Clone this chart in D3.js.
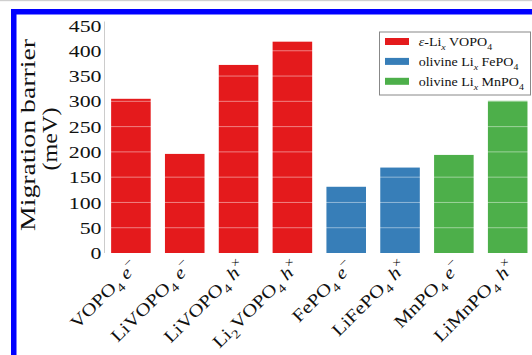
<!DOCTYPE html>
<html>
<head>
<meta charset="utf-8">
<script src="https://cdn.jsdelivr.net/npm/d3@7"></script>
<style>
  html, body { margin: 0; padding: 0; background: #fff; }
  svg { display: block; }
</style>
</head>
<body>
<script>
// Markup: "_c" subscript char, "^c" superscript char, "$...$" italic run
const formulas = ["VOPO_4", "LiVOPO_4", "LiVOPO_4", "Li_2VOPO_4", "FePO_4", "LiFePO_4", "MnPO_4", "LiMnPO_4"];
const carriers = ["$e^−$", "$e^−$", "$h^×$", "$h^×$", "$e^−$", "$h^×$", "$e^−$", "$h^×$"];
const barriers = [305, 196, 372, 418, 131, 169, 194, 301];
const families = [0, 0, 0, 0, 1, 1, 2, 2];
const familyNames = ["$ε$-Li$_x$ VOPO_4", "olivine Li$_x$ FePO_4", "olivine Li$_x$ MnPO_4"];
const familyColors = ["#e41a1c", "#377eb8", "#4daf4a"];
const yTicks = [0, 50, 100, 150, 200, 250, 300, 350, 400, 450];
const yTitle = ["Migration barrier", "(meV)"];

const W = 532, H = 355;
const FONT = "'Liberation Serif', 'Times New Roman', serif";

const svg = d3.select("body").append("svg")
  .attr("width", W).attr("height", H)
  .style("background", "#fff");

// page frame: thin grey rule and blue border
svg.append("rect").attr("x", 0).attr("y", 0).attr("width", W).attr("height", 1.2).attr("fill", "#cfcfcf");
svg.append("rect").attr("x", 11).attr("y", 9).attr("width", W - 11).attr("height", 5.5).attr("fill", "#0000ff");
svg.append("rect").attr("x", 11).attr("y", 9).attr("width", 5.5).attr("height", H - 9).attr("fill", "#0000ff");

const x = d3.scaleLinear().domain([-0.5, 7.5]).range([104, 534.6]);
const y = d3.scaleLinear().domain([0, 450]).range([253, 25.5]);
const barW = 0.735;

// parse the small markup into styled runs (operators in scripts stay upright)
function parseRich(str) {
  const runs = [];
  let italic = false;
  for (let i = 0; i < str.length; i++) {
    const c = str[i];
    if (c === "$") { italic = !italic; continue; }
    if (c === "_" || c === "^") {
      const ch = str[i + 1];
      runs.push({ t: ch, it: italic && /[a-z]/i.test(ch), shift: c === "_" ? 1 : -1 });
      i++;
      continue;
    }
    const last = runs[runs.length - 1];
    if (last && last.shift === 0 && last.it === italic) last.t += c;
    else runs.push({ t: c, it: italic, shift: 0 });
  }
  return runs;
}

function appendRich(textSel, str, fs) {
  let cur = 0;
  parseRich(str).forEach(r => {
    const off = r.shift === 1 ? 0.3 * fs : r.shift === -1 ? -0.45 * fs : 0;
    textSel.append("tspan")
      .attr("dy", off - cur)
      .attr("font-size", r.shift ? fs * 0.7 : fs)
      .attr("font-style", r.it ? "italic" : "normal")
      .text(r.t);
    cur = off;
  });
}

// bars
const g = svg.append("g");
g.selectAll("rect.bar").data(barriers).join("rect")
  .attr("class", "bar")
  .attr("x", (d, i) => x(i - barW / 2))
  .attr("width", x(barW) - x(0))
  .attr("y", d => y(d))
  .attr("height", d => y(0) - y(d))
  .attr("fill", (d, i) => familyColors[families[i]]);

// faint grid drawn over the bars
g.selectAll("line.grid").data(yTicks.filter(t => t > 0)).join("line")
  .attr("class", "grid")
  .attr("x1", 104).attr("x2", W)
  .attr("y1", d => y(d)).attr("y2", d => y(d))
  .attr("stroke", "#ffffff").attr("stroke-opacity", 0.45).attr("stroke-width", 1);

// y axis spine
svg.append("line")
  .attr("x1", 104.5).attr("x2", 104.5)
  .attr("y1", y(450) - 4).attr("y2", y(0))
  .attr("stroke", "#cccccc").attr("stroke-width", 1);

// y tick labels
svg.selectAll("text.ytick").data(yTicks).join("text")
  .attr("class", "ytick")
  .attr("transform", d => `translate(101.5,${y(d)}) scale(1.25,1)`)
  .attr("dy", "0.35em")
  .attr("text-anchor", "end")
  .attr("font-family", FONT).attr("font-size", 17.5).attr("fill", "#111")
  .text(d => d);

// y axis title (two lines)
svg.append("text")
  .attr("transform", "translate(34.5,135) rotate(-90)")
  .attr("text-anchor", "middle")
  .attr("font-family", FONT).attr("font-size", 22).attr("fill", "#111")
  .attr("textLength", 192).attr("lengthAdjust", "spacingAndGlyphs")
  .text(yTitle[0]);
svg.append("text")
  .attr("transform", "translate(57,139) rotate(-90)")
  .attr("text-anchor", "middle")
  .attr("font-family", FONT).attr("font-size", 22).attr("fill", "#111")
  .attr("textLength", 63).attr("lengthAdjust", "spacingAndGlyphs")
  .text(yTitle[1]);

// rotated category labels
formulas.forEach((f, i) => {
  const t = svg.append("text")
    .attr("transform", `translate(${x(i) + 8},268) rotate(-45) scale(1.2,1)`)
    .attr("text-anchor", "end")
    .attr("font-family", FONT).attr("fill", "#111");
  appendRich(t, f + " " + carriers[i], 17.5);
});

// legend
const lg = svg.append("g");
lg.append("rect")
  .attr("x", 379.5).attr("y", 32).attr("width", 151).attr("height", 63)
  .attr("fill", "#fff").attr("stroke", "#888").attr("stroke-width", 1);
familyNames.forEach((n, k) => {
  const cy = 41.5 + k * 19.9;
  lg.append("rect")
    .attr("x", 385).attr("y", cy - 3.5).attr("width", 24).attr("height", 7)
    .attr("fill", familyColors[k]);
  const t = lg.append("text")
    .attr("transform", `translate(418.7,${cy + 4.5}) scale(1.08,1)`)
    .attr("font-family", FONT).attr("fill", "#111");
  appendRich(t, n, 13);
});
</script>
</body>
</html>
